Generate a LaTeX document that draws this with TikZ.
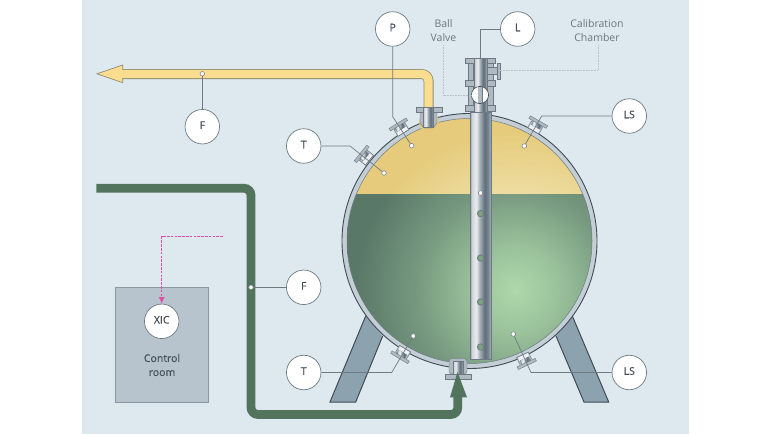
\documentclass[tikz,border=0pt]{standalone}
\usepackage{fontspec}
\setmainfont{Open Sans}
\newfontfamily\heavyfont[FakeBold=0.25]{Open Sans}
\usetikzlibrary{arrows.meta}
\definecolor{panel}{HTML}{DEE8EF}
\definecolor{shellc}{HTML}{C3CED6}
\definecolor{edgec}{HTML}{3F4C55}
\definecolor{metal}{HTML}{AEB9C1}
\definecolor{metaledge}{HTML}{6D7A84}
\definecolor{legc}{HTML}{8DA2AF}
\definecolor{yellowc}{HTML}{FBDD8F}
\definecolor{yellowedge}{HTML}{8F8D70}
\definecolor{greenc}{HTML}{52745D}
\definecolor{linec}{HTML}{6F7A82}
\definecolor{textc}{HTML}{454E56}
\definecolor{labelc}{HTML}{6C767E}
\definecolor{leaderc}{HTML}{B6C1C8}
\definecolor{magc}{HTML}{E44DA5}
\definecolor{roomc}{HTML}{B8C4CD}
\definecolor{roomedge}{HTML}{8B98A2}
\definecolor{holec}{HTML}{7FA380}
\definecolor{bandc}{HTML}{EEF1F3}
\definecolor{ya}{HTML}{F6EFCB}
\definecolor{yb}{HTML}{EDDCA0}
\definecolor{yc}{HTML}{E5CB7B}
\definecolor{ga}{HTML}{AFD8AC}
\definecolor{gb}{HTML}{9CC49C}
\definecolor{gc}{HTML}{76987F}
\definecolor{gd}{HTML}{597867}
\definecolor{bulge}{HTML}{E8C878}
\definecolor{ta}{HTML}{8A96A0}
\definecolor{tb}{HTML}{CDD3D8}
\definecolor{tc}{HTML}{EAEDEF}
\definecolor{td}{HTML}{AAB3BA}
\definecolor{te}{HTML}{5F6F7C}
\definecolor{tf}{HTML}{75838E}
\definecolor{tg}{HTML}{A6B0B8}
\pgfdeclarehorizontalshading{tubeshade}{100bp}{color(0bp)=(ta); color(25bp)=(ta); color(29bp)=(tb); color(40bp)=(tc); color(47.5bp)=(td); color(60bp)=(te); color(67.5bp)=(tf); color(75bp)=(tg); color(100bp)=(tg)}
\pgfdeclareradialshading{greenshade}{\pgfpointorigin}{color(0bp)=(ga); color(5bp)=(gb); color(12.5bp)=(gc); color(20bp)=(gd); color(50bp)=(gd)}
\pgfdeclareradialshading{yellowshade}{\pgfpointorigin}{color(0bp)=(ya); color(12.5bp)=(yb); color(20bp)=(yc); color(50bp)=(yc)}
\tikzset{
  sensor/.style={circle,draw=linec,line width=0.7pt,fill=white,minimum size=34.5pt,inner sep=0pt,font=\heavyfont\fontsize{10.5}{12}\selectfont,text=textc,text height=7.5pt,text depth=3pt},
  dotmark/.style={circle,draw=linec,line width=0.5pt,fill=white,minimum size=4.6pt,inner sep=0pt},
  holemark/.style={circle,draw=metaledge,line width=0.7pt,fill=holec,minimum size=6.4pt,inner sep=0pt},
  wire/.style={draw=linec,line width=0.7pt},
  leader/.style={draw=leaderc,line width=0.6pt,densely dotted},
  lbl/.style={text=labelc,font=\fontsize{10.5}{14}\selectfont,align=center,inner sep=0pt},
  metalpart/.style={fill=metal,draw=metaledge,line width=0.4pt},
  tubepart/.style={shading=tubeshade,draw=metaledge,line width=0.3pt},
  nozzle/.pic={
    \path[metalpart] (-6.5,-4) rectangle (6.5,3.5);
    \path[metalpart] (-10,-8) rectangle (10,-5);
    \path[tubepart] (-4.5,-5) rectangle (4.5,-0.5);
    \fill[bandc] (-5.5,-0.5) rectangle (5.5,3);
    \draw[metaledge,line width=0.4pt] (-6.5,3.5) -- (6.5,3.5);
  }
}
\begin{document}
\begin{tikzpicture}[x=1pt,y=-1pt]
\useasboundingbox (0,0) rectangle (771,434);
\fill[panel] (82,0) rectangle (689,434);
% legs
\fill[legc] (365.7,316) -- (382.7,336) -- (355.7,402) -- (330,402) -- cycle;
\draw[edgec,line width=1pt] (365.7,316) -- (330,402) -- (355.7,402) -- (382.7,336);
\fill[legc] (572.3,316) -- (556,336) -- (584,402) -- (608.7,402) -- cycle;
\draw[edgec,line width=1pt] (556,336) -- (584,402) -- (608.7,402) -- (572.3,316);
% shell
\coordinate (tankc) at (469.5,241);
\fill[shellc] (tankc) circle (127.5);
\draw[edgec,line width=0.9pt] (tankc) circle (127.5);
% contents
\begin{scope}
  \clip (tankc) circle (122.5);
  \begin{scope}
    \clip (300,100) rectangle (640,194);
    \path[shading=yellowshade] (515,290) circle (200);
  \end{scope}
  \begin{scope}
    \clip (300,194) rectangle (640,380);
    \path[shading=greenshade] (515,290) circle (200);
  \end{scope}
\end{scope}
\draw[metaledge,line width=0.5pt] (tankc) circle (122.5);
% yellow pipe
\coordinate (yStart) at (428.5,110);
\coordinate (yBend) at (428.5,74);
\coordinate (yEnd) at (120,74);
\draw[yellowedge,line width=10pt,rounded corners=7pt] (yStart) -- (yBend) -- (yEnd);
\draw[yellowc,line width=8.4pt,rounded corners=7pt] (yStart) -- (yBend) -- (yEnd);
\fill[yellowc,draw=yellowedge,line width=0.7pt] (97,73.8) -- (122.7,65) -- (122.7,82.7) -- cycle;
\fill[yellowc] (121,70) rectangle (124,78);
% top nozzle
\fill[bulge] (429,122) circle (10);
\path[metalpart] (420,112) -- (437,112) -- (437,123) -- (433,128) -- (424,128) -- (420,123) -- cycle;
\path[tubepart] (423,107) rectangle (433.5,127);
\path[metalpart] (416,107.5) rectangle (423,112);
\path[metalpart] (433.5,107.5) rectangle (442,112);
% green pipe
\coordinate (gStart) at (96.3,188.3);
\coordinate (gA) at (251,188.3);
\coordinate (gB) at (251,414.5);
\coordinate (gC) at (457.8,414.5);
\coordinate (gEnd) at (457.8,395);
% bottom nozzle
\path[metalpart,rounded corners=3pt] (449,374) -- (449,358.5) -- (467,358.5) -- (467,374) -- cycle;
\path[metalpart] (445,374) rectangle (471,378.7);
\path[tubepart] (453,361) rectangle (463,374);
\draw[greenc,line width=8.8pt,rounded corners=7pt] (gStart) -- (gA) -- (gB) -- (gC) -- (gEnd);
\fill[greenc] (457.5,372) -- (467,397.3) -- (450,397.3) -- cycle;
% dip tube
\path[tubepart] (470,112) rectangle (491,359);
\node[holemark] (h1) at (480.5,213.5) {};
\node[holemark] (h2) at (480.5,258) {};
\node[holemark] (h3) at (480.5,302) {};
\node[holemark] (h4) at (480.5,347) {};
% chamber
\path[metalpart] (468,63) rectangle (473,106);
\path[metalpart] (487,63) rectangle (493,80);
\path[metalpart] (487,86) rectangle (493,106);
\path[metalpart] (487,67) rectangle (497,74);
\path[metalpart] (497,63) rectangle (500,79);
\path[tubepart] (474,58) rectangle (487,112);
\path[metalpart] (465,58) rectangle (474,63);
\path[metalpart] (487,58) rectangle (495,63);
\path[metalpart] (465,80) rectangle (474,86);
\path[metalpart] (487,80) rectangle (495,86);
\path[metalpart] (465,105) rectangle (474,111);
\path[metalpart] (487,105) rectangle (495,111);
% ball valve
\fill[white] (480,95) circle (8.6);
\begin{scope}
  \clip (480,95) circle (8.6);
  \fill[metal] (477.5,85) rectangle (483,105);
  \fill[metaledge] (481.5,85) rectangle (483,105);
\end{scope}
\draw[edgec,line width=0.6pt] (480,95) circle (8.6);
% small nozzles
\pic[rotate=51] at (366.7,158) {nozzle};
\pic[rotate=31.5] at (401.7,130) {nozzle};
\pic[rotate=-30] at (535,127.7) {nozzle};
\pic[rotate=149] at (403.3,351.7) {nozzle};
\pic[rotate=-155] at (524,358) {nozzle};
% leaders and labels
\node[lbl] (ballLabel) at (443.5,31) {Ball\\Valve};
\node[lbl] (calLabel) at (597,31) {Calibration\\Chamber};
\coordinate (ballEnd) at (471.5,95);
\coordinate (ballBend) at (443.5,95);
\coordinate (calEnd) at (500,70.5);
\coordinate (calBend) at (598,70.5);
\draw[leader] (ballLabel.south) ++(0,3) -- (ballBend) -- (ballEnd);
\draw[leader] (calLabel.south) ++(1,3) -- (calBend) -- (calEnd);
% control room
\node[draw=roomedge,fill=roomc,line width=0.7pt,minimum width=92.6pt,minimum height=114.7pt,inner sep=0pt] (room) at (162,344.6) {};
\node[font=\heavyfont\fontsize{10.5}{14}\selectfont,text=textc,align=center,inner sep=0pt] (roomLabel) at (162,365) {Control\\room};
% sensors
\node[sensor] (P) at (392.7,29) {P};
\node[sensor] (L) at (517.7,29) {L};
\node[sensor] (LSa) at (629.3,116) {LS};
\node[sensor] (Ta) at (303.7,146) {T};
\node[sensor] (Fa) at (202.3,126.7) {F};
\node[sensor] (Fb) at (303.7,287.3) {F};
\node[sensor] (Tb) at (303.7,372.5) {T};
\node[sensor] (LSb) at (629.3,372.5) {LS};
\node[sensor] (XIC) at (161.7,321.3) {XIC};
% sensing points
\node[dotmark] (dP) at (411.7,145.7) {};
\node[dotmark] (dTa) at (384,173) {};
\node[dotmark] (dLSa) at (524.3,146) {};
\node[dotmark] (dL) at (480.5,193) {};
\node[dotmark] (dFa) at (202.3,73.8) {};
\node[dotmark] (dFb) at (251,287.3) {};
\node[dotmark] (dTb) at (413.3,336) {};
\node[dotmark] (dLSb) at (513.3,334) {};
% connectors
\coordinate (bP) at (392.7,116.7);
\coordinate (bTa) at (350,146);
\coordinate (bLSa) at (541.7,116);
\coordinate (bL) at (480,29);
\coordinate (eL) at (480,58);
\coordinate (bTb) at (391.7,372.5);
\coordinate (bLSb) at (531,372.5);
\draw[wire] (P) -- (bP) -- (dP);
\draw[wire] (Ta) -- (bTa) -- (dTa);
\draw[wire] (LSa) -- (bLSa) -- (dLSa);
\draw[wire] (L) -- (bL) -- (eL);
\draw[wire] (Fa) -- (dFa);
\draw[wire] (Fb) -- (dFb);
\draw[wire] (Tb) -- (bTb) -- (dTb);
\draw[wire] (LSb) -- (bLSb) -- (dLSb);
% control signal
\coordinate (sigStart) at (222.7,236.7);
\coordinate (sigBend) at (161.7,236.7);
\draw[magc,line width=1.2pt,dash pattern=on 2.6pt off 1.2pt,-{Latex[length=6.5pt,width=6pt]}] (sigStart) -- (sigBend) -- (XIC.north);
\end{tikzpicture}
\end{document}
